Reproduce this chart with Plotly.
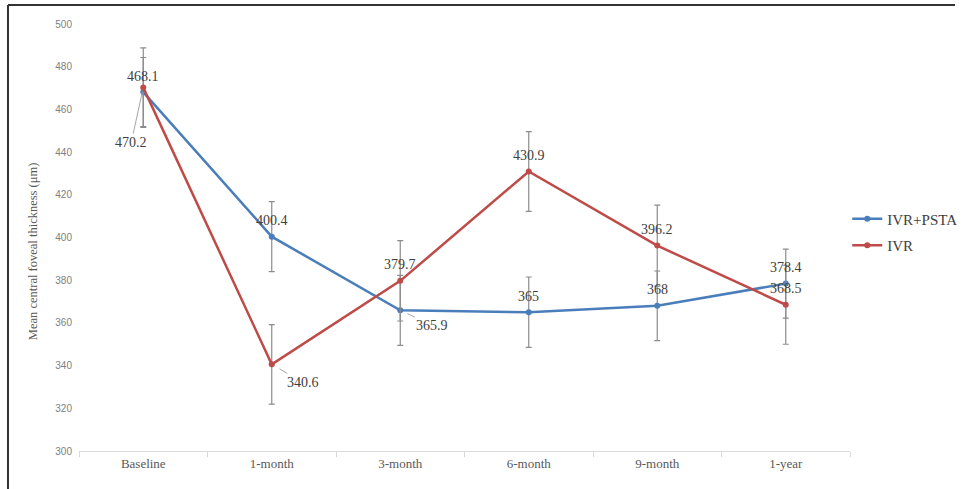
import plotly.graph_objects as go

# Follow-up visits
visits = ["Baseline", "1-month", "3-month", "6-month", "9-month", "1-year"]

# Mean central foveal thickness (µm) and error-bar half-widths
combo_mean = [468.1, 400.4, 365.9, 365.0, 368.0, 378.4]
combo_err = [16.2, 16.4, 16.4, 16.5, 16.3, 16.2]
ivr_mean = [470.2, 340.6, 379.7, 430.9, 396.2, 368.5]
ivr_err = [18.6, 18.6, 18.8, 18.7, 19.0, 18.5]

BLUE = "#4a7ebb"
RED = "#be4b48"
ERR = "#8c8c8c"
SERIF = "Liberation Serif, Times New Roman, serif"

fig = go.Figure()

fig.add_trace(go.Scatter(
    x=visits, y=combo_mean, name="IVR+PSTA", mode="lines+markers",
    line=dict(color=BLUE, width=2.5), marker=dict(size=6, color=BLUE),
    error_y=dict(type="data", array=combo_err, visible=True,
                 color=ERR, thickness=1.2, width=3),
    legendgroup="a",
))
fig.add_trace(go.Scatter(
    x=visits, y=ivr_mean, name="IVR", mode="lines+markers",
    line=dict(color=RED, width=2.5), marker=dict(size=6, color=RED),
    error_y=dict(type="data", array=ivr_err, visible=True,
                 color=ERR, thickness=1.2, width=3),
    legendgroup="b",
))

LABEL_FONT = dict(family=SERIF, size=14, color="#404040")

# Value labels placed above their markers
above = [
    (0, combo_mean[0]), (1, combo_mean[1]), (2, ivr_mean[2]),
    (3, ivr_mean[3]), (3, combo_mean[3]), (4, ivr_mean[4]),
    (4, combo_mean[4]), (5, combo_mean[5]), (5, ivr_mean[5]),
]
for i, v in above:
    fig.add_annotation(x=visits[i], y=v, text=f"{v:g}", showarrow=False,
                       yshift=16, font=LABEL_FONT)

# Value labels with leader lines
leader = [
    (0, ivr_mean[0], -12, 55, 5),
    (1, ivr_mean[1], 31, 18, 9),
    (2, combo_mean[2], 32, 15, 8),
]
for i, v, ax, ay, so in leader:
    fig.add_annotation(x=visits[i], y=v, text=f"{v:g}", showarrow=True,
                       ax=ax, ay=ay, arrowhead=0, arrowwidth=1,
                       arrowcolor="#a6a6a6", standoff=so, font=LABEL_FONT)

# Vertical axis title
fig.add_annotation(xref="paper", yref="paper", x=-0.0597, y=0.468,
                   text="Mean central foveal thickness (μm)", textangle=-90,
                   showarrow=False, xanchor="center", yanchor="middle",
                   font=dict(family=SERIF, size=12.5, color="#595959"))

# Outer frame (top and left edges)
fig.add_shape(type="line", xref="paper", yref="paper",
              x0=-0.0921, x1=1.1362, y0=1.0445, y1=1.0445,
              line=dict(color="#333333", width=2))
fig.add_shape(type="line", xref="paper", yref="paper",
              x0=-0.0921, x1=-0.0921, y0=1.0445, y1=-0.1,
              line=dict(color="#333333", width=2))

fig.update_layout(
    width=965, height=489,
    margin=dict(l=79, r=115, t=24, b=38, autoexpand=False),
    paper_bgcolor="white", plot_bgcolor="white",
    showlegend=True,
    legend=dict(xref="container", yref="container",
                x=0.878, xanchor="left", y=0.586, yanchor="top",
                font=dict(family=SERIF, size=15, color="#404040"),
                traceorder="grouped", tracegroupgap=4,
                bgcolor="rgba(0,0,0,0)"),
    xaxis=dict(
        type="category", range=[-0.5, 5.5],
        showgrid=False, zeroline=False,
        showline=True, linecolor="#d9d9d9", linewidth=1,
        ticks="outside", tickson="boundaries", ticklen=5, tickcolor="#d9d9d9",
        tickfont=dict(family=SERIF, size=13, color="#595959"),
    ),
    yaxis=dict(
        range=[300, 500], dtick=20, showgrid=False, zeroline=False,
        showline=False, ticks="", ticklabelstandoff=6,
        tickfont=dict(family="Liberation Sans, Arial, sans-serif", size=10,
                      color="#808080"),
    ),
)

fig.write_html("out.html")
